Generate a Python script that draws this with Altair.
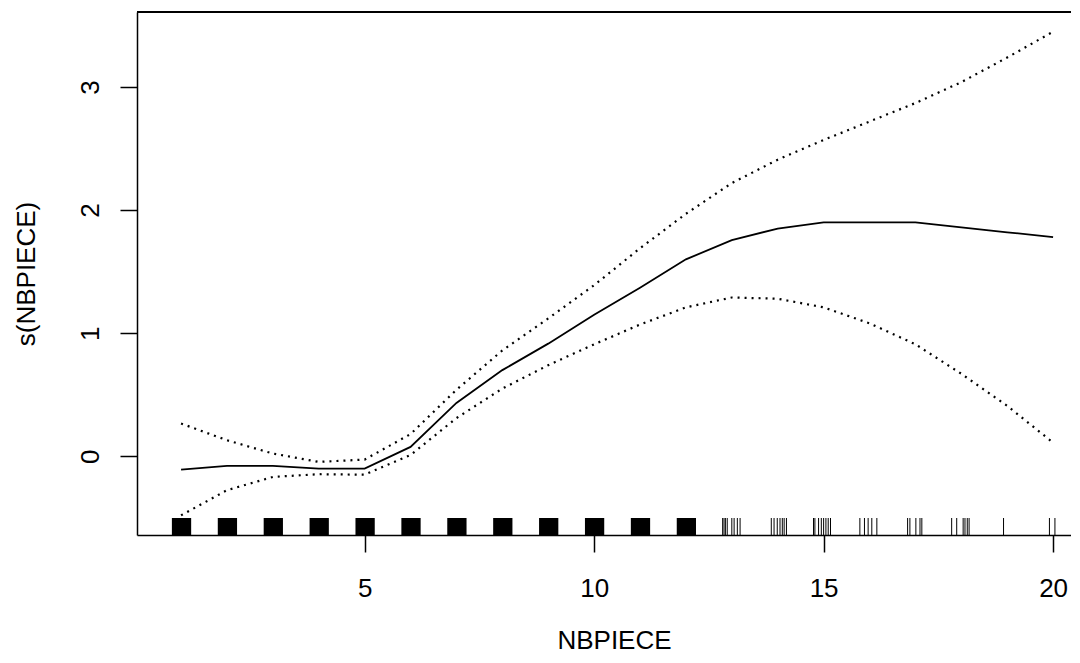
import altair as alt
import pandas as pd

# Smooth term s(NBPIECE) and its confidence band, read at each integer NBPIECE
nbpiece = list(range(1, 21))
fit = [-0.108, -0.079, -0.079, -0.10, -0.10, 0.076, 0.433, 0.70, 0.915, 1.15,
       1.37, 1.60, 1.756, 1.85, 1.90, 1.90, 1.90, 1.86, 1.82, 1.78]
upper = [0.266, 0.13, 0.022, -0.046, -0.027, 0.18, 0.54, 0.86, 1.12, 1.39,
         1.69, 1.97, 2.22, 2.41, 2.57, 2.72, 2.87, 3.04, 3.24, 3.45]
lower = [-0.48, -0.276, -0.168, -0.146, -0.15, 0.01, 0.31, 0.55, 0.74, 0.91,
         1.07, 1.21, 1.29, 1.28, 1.21, 1.08, 0.91, 0.67, 0.41, 0.11]

# Rug: dense jittered blocks (1..12) and individual ticks (13..20)
block_lo = [0.80, 1.80, 2.80, 3.80, 4.80, 5.80, 6.80, 7.80, 8.80, 9.80, 10.80, 11.80]
block_hi = [1.22, 2.22, 3.22, 4.22, 5.22, 6.22, 7.22, 8.22, 9.22, 10.22, 11.22, 12.22]
rug_ticks = [12.80, 12.83, 12.86, 12.90, 13.00, 13.05, 13.12, 13.18,
             13.86, 13.92, 13.99, 14.05, 14.10, 14.14, 14.19,
             14.78, 14.81, 14.89, 14.95, 15.00, 15.05, 15.10, 15.15,
             15.79, 15.89, 15.97, 16.05, 16.16,
             16.83, 16.88, 17.01, 17.10, 17.14,
             17.79, 17.90, 18.04, 18.08, 18.13, 18.17,
             18.92, 19.92, 20.04]

x_ticks = [5, 10, 15, 20]
y_ticks = [0, 1, 2, 3]

W, H = 934, 523
FONT = "Liberation Sans"

df = pd.DataFrame({"x": nbpiece, "fit": fit, "upper": upper, "lower": lower})
blocks = pd.DataFrame({"lo": block_lo, "hi": block_hi})
ticks = pd.DataFrame({"r": rug_ticks})

xscale = alt.Scale(domain=[0.04, 20.39], nice=False, zero=False)
yscale = alt.Scale(domain=[-0.64, 3.61], nice=False, zero=False)

xaxis = alt.Axis(values=x_ticks, title="NBPIECE", grid=False, labelPadding=44,
                 labelBaseline="alphabetic", titleX=477, titleY=113,
                 titleAlign="center", titleBaseline="alphabetic", format="d")
yaxis = alt.Axis(values=y_ticks, title="s(NBPIECE)", grid=False, labelAngle=270,
                 labelAlign="center", labelBaseline="alphabetic", labelPadding=22,
                 titleAngle=270, titleX=-103, titleY=H / 2, titleAlign="center",
                 titleBaseline="alphabetic", format="d")

base = alt.Chart(df)

fit_line = base.mark_line(color="black", strokeWidth=1.8).encode(
    x=alt.X("x:Q", scale=xscale, axis=xaxis),
    y=alt.Y("fit:Q", scale=yscale, axis=yaxis),
)
up_line = base.mark_line(color="black", strokeWidth=2.2, strokeDash=[2, 5]).encode(
    x=alt.X("x:Q", scale=xscale), y=alt.Y("upper:Q", scale=yscale)
)
lo_line = base.mark_line(color="black", strokeWidth=2.2, strokeDash=[2, 5]).encode(
    x=alt.X("x:Q", scale=xscale), y=alt.Y("lower:Q", scale=yscale)
)

rug_blocks = alt.Chart(blocks).mark_rect(color="black").encode(
    x=alt.X("lo:Q", scale=xscale), x2="hi:Q",
    y=alt.value(H - 17), y2=alt.value(H),
)
rug_lines = alt.Chart(ticks).mark_rule(color="black", strokeWidth=1).encode(
    x=alt.X("r:Q", scale=xscale),
    y=alt.value(H - 17), y2=alt.value(H),
)
top_border = alt.Chart(df).mark_rule(color="black", strokeWidth=1.5).encode(
    x=alt.value(0), x2=alt.value(W), y=alt.value(0)
)

chart = alt.layer(fit_line, up_line, lo_line, rug_blocks, rug_lines, top_border).properties(
    width=W, height=H,
    autosize=alt.AutoSizeParams(type="none"),
    padding={"left": 129, "top": 4, "right": 0, "bottom": 120},
    background="white",
).configure_view(stroke=None).configure_axis(
    domainColor="black", domainWidth=1.5, tickColor="black", tickWidth=1.5,
    tickSize=17, labelFont=FONT, labelFontSize=26, labelColor="black",
    titleFont=FONT, titleFontSize=26, titleFontWeight="normal", titleColor="black",
    labelOverlap=False,
)

chart.save("out.html", embed_options={"renderer": "svg", "actions": False})
